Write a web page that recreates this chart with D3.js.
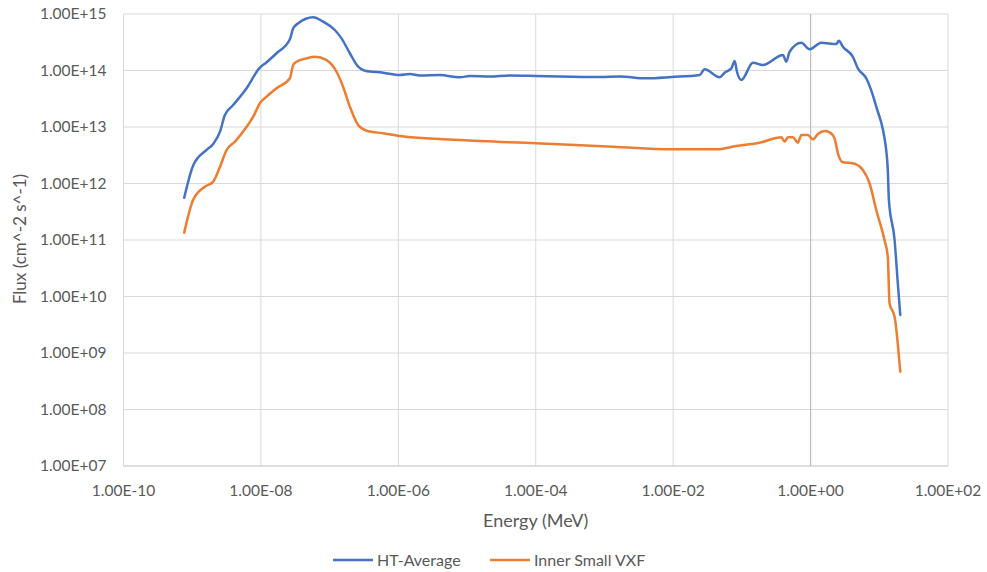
<!DOCTYPE html>
<html lang="en">
<head>
<meta charset="UTF-8">
<title>Flux vs Energy</title>
<script src="https://d3js.org/d3.v7.min.js"></script>
<style>
  body { margin: 0; padding: 0; background: #fff; }
  text { font-family: Lato, "Open Sans", sans-serif; fill: #595959; }
</style>
</head>
<body>
<svg id="chart"></svg>
<script>
const width = 987, height = 572;
const margin = { top: 14, right: 39, bottom: 106, left: 123.5 };

// energy (MeV) and flux (cm^-2 s^-1)
const htEnergy = [7.65e-10, 1.03e-9, 1.62e-9, 2.02e-9, 2.54e-9, 2.99e-9, 3.95e-9, 6.19e-9, 9.44e-9, 1.21e-8,
  1.69e-8, 2.64e-8, 2.95e-8, 3.49e-8, 5.77e-8, 8.05e-8, 1.19e-7, 1.49e-7, 1.97e-7, 2.60e-7,
  3.26e-7, 6.01e-7, 1.05e-6, 1.47e-6, 2.06e-6, 4.02e-6, 7.85e-6, 1.1e-5, 2.14e-5, 4.19e-5,
  1.02e-4, 2.23e-4, 8.53e-4, 1.67e-3, 4.07e-3, 9.5e-3, 2.43e-2, 2.87e-2, 4.74e-2, 5.61e-2,
  7.03e-2, 7.85e-2, 8.48e-2, 9.82e-2, 0.145, 0.202, 0.395, 0.444, 0.495, 0.733,
  0.966, 1.43, 2.37, 2.58, 2.95, 4.12, 4.88, 6.46, 9.03, 12.6,
  13.3, 13.8, 16.7, 18.6, 20.2];
const htFlux = [5.6e11, 2.07e12, 3.92e12, 5.0e12, 8.26e12, 1.63e13, 2.45e13, 4.84e13, 1.09e14, 1.40e14,
  2.02e14, 3.57e14, 5.58e14, 6.85e14, 8.74e14, 7.31e14, 5.21e14, 3.71e14, 2.02e14, 1.17e14,
  9.9e13, 9.15e13, 8.32e13, 8.67e13, 8.16e13, 8.32e13, 7.58e13, 8.0e13, 7.83e13, 8.16e13,
  8.0e13, 7.83e13, 7.67e13, 7.83e13, 7.28e13, 7.67e13, 8.32e13, 1.05e14, 7.58e13, 9.15e13,
  1.09e14, 1.47e14, 9.5e13, 6.79e13, 1.37e14, 1.25e14, 1.88e14, 1.43e14, 2.15e14, 3.1e14,
  2.37e14, 3.1e14, 2.94e14, 3.37e14, 2.64e14, 1.75e14, 1.09e14, 7.28e13, 2.29e13, 3.92e12,
  1.73e12, 5.1e11, 1.0e11, 1.71e10, 4.7e9];

const vxfEnergy = [7.65e-10, 1.03e-9, 1.53e-9, 2.02e-9, 2.54e-9, 3.17e-9, 4.19e-9, 6.19e-9, 7.73e-9, 9.66e-9,
  1.21e-8, 1.69e-8, 2.64e-8, 2.95e-8, 3.3e-8, 4.62e-8, 6.09e-8, 9.04e-8, 1.26e-7, 1.57e-7,
  1.97e-7, 2.60e-7, 3.44e-7, 6.01e-7, 1.05e-6, 7.85e-6, 1.02e-4, 1.33e-3, 9.93e-3, 4.25e-2,
  8.3e-2, 0.181, 0.375, 0.419, 0.468, 0.553, 0.653, 0.733, 0.914, 1.08,
  1.28, 1.6, 1.89, 2.23, 2.5, 2.95, 4.12, 5.77, 7.21, 9.03,
  11.9, 13.3, 14.1, 16.7, 20.2];
const vxfFlux = [1.35e11, 5.1e11, 8.78e11, 1.08e12, 1.98e12, 3.92e12, 5.5e12, 1.01e13, 1.52e13, 2.63e13,
  3.44e13, 4.84e13, 7.28e13, 1.25e14, 1.43e14, 1.64e14, 1.75e14, 1.53e14, 9.5e13, 5.17e13,
  2.29e13, 1.08e13, 8.6e12, 7.73e12, 6.93e12, 5.89e12, 5.15e12, 4.48e12, 4.03e12, 4.03e12,
  4.61e12, 5.27e12, 6.57e12, 5.5e12, 6.57e12, 6.57e12, 5.27e12, 7.21e12, 7.21e12, 6.06e12,
  7.52e12, 8.49e12, 8.06e12, 6.31e12, 3.42e12, 2.37e12, 2.28e12, 1.73e12, 1.01e12, 3.4e11,
  1.0e11, 5.06e10, 7.6e9, 4.4e9, 4.67e8];

const xTicks = [1e-10, 1e-8, 1e-6, 1e-4, 1e-2, 1, 1e2];
const yTicks = [1e7, 1e8, 1e9, 1e10, 1e11, 1e12, 1e13, 1e14, 1e15];

const seriesNames = ["HT-Average", "Inner Small VXF"];
const seriesColors = ["#4472C4", "#ED7D31"];

const fmtSci = v => {
  const e = Math.round(Math.log10(v));
  return "1.00E" + (e < 0 ? "-" : "+") + String(Math.abs(e)).padStart(2, "0");
};

const svg = d3.select("#chart").attr("width", width).attr("height", height);

const x = d3.scaleLog().domain([1e-10, 1e2]).range([margin.left, width - margin.right]);
const y = d3.scaleLog().domain([1e7, 1e15]).range([height - margin.bottom, margin.top]);

// gridlines
svg.append("g").selectAll("line")
  .data(yTicks.slice(1))
  .enter().append("line")
  .attr("x1", x(1e-10)).attr("x2", x(1e2))
  .attr("y1", d => y(d)).attr("y2", d => y(d))
  .attr("stroke", "#d9d9d9").attr("stroke-width", 1);

svg.append("g").selectAll("line")
  .data(xTicks.filter(d => d !== 1))
  .enter().append("line")
  .attr("x1", d => x(d)).attr("x2", d => x(d))
  .attr("y1", y(1e7)).attr("y2", y(1e15))
  .attr("stroke", "#d9d9d9").attr("stroke-width", 1);

// axis lines (value axis crosses at 1 MeV)
svg.append("line")
  .attr("x1", x(1e-10)).attr("x2", x(1e2))
  .attr("y1", y(1e7)).attr("y2", y(1e7))
  .attr("stroke", "#bfbfbf").attr("stroke-width", 1);
svg.append("line")
  .attr("x1", x(1)).attr("x2", x(1))
  .attr("y1", y(1e7)).attr("y2", y(1e15))
  .attr("stroke", "#bfbfbf").attr("stroke-width", 1.3);

// tick labels
svg.append("g").selectAll("text")
  .data(yTicks)
  .enter().append("text")
  .attr("x", margin.left - 17)
  .attr("y", d => y(d))
  .attr("dy", "0.35em")
  .attr("text-anchor", "end")
  .style("font-size", "15.5px")
  .text(fmtSci);

svg.append("g").selectAll("text")
  .data(xTicks)
  .enter().append("text")
  .attr("x", d => x(d))
  .attr("y", y(1e7) + 25)
  .attr("dy", "0.35em")
  .attr("text-anchor", "middle")
  .style("font-size", "15.5px")
  .text(fmtSci);

// axis titles
svg.append("text")
  .attr("x", (margin.left + width - margin.right) / 2)
  .attr("y", 521)
  .attr("dy", "0.35em")
  .attr("text-anchor", "middle")
  .style("font-size", "18px")
  .text("Energy (MeV)");

svg.append("text")
  .attr("transform", "rotate(-90)")
  .attr("x", -239)
  .attr("y", 20)
  .attr("dy", "0.35em")
  .attr("text-anchor", "middle")
  .style("font-size", "17px")
  .text("Flux (cm^-2 s^-1)");

// series
const line = d3.line()
  .x(d => x(d[0]))
  .y(d => y(d[1]))
  .curve(d3.curveMonotoneX);

const series = [
  d3.zip(htEnergy, htFlux),
  d3.zip(vxfEnergy, vxfFlux)
];

svg.append("g").selectAll("path")
  .data(series)
  .enter().append("path")
  .attr("d", line)
  .attr("fill", "none")
  .attr("stroke", (d, i) => seriesColors[i])
  .attr("stroke-width", 2.5)
  .attr("stroke-linejoin", "round")
  .attr("stroke-linecap", "round");

// legend
const legendX = [333, 490];
const legend = svg.append("g").selectAll("g")
  .data(seriesNames)
  .enter().append("g")
  .attr("transform", (d, i) => `translate(${legendX[i]},560)`);

legend.append("line")
  .attr("x1", 0).attr("x2", 40)
  .attr("stroke", (d, i) => seriesColors[i])
  .attr("stroke-width", 2.5);

legend.append("text")
  .attr("x", 44)
  .attr("dy", "0.35em")
  .style("font-size", "16px")
  .text(d => d);
</script>
</body>
</html>
